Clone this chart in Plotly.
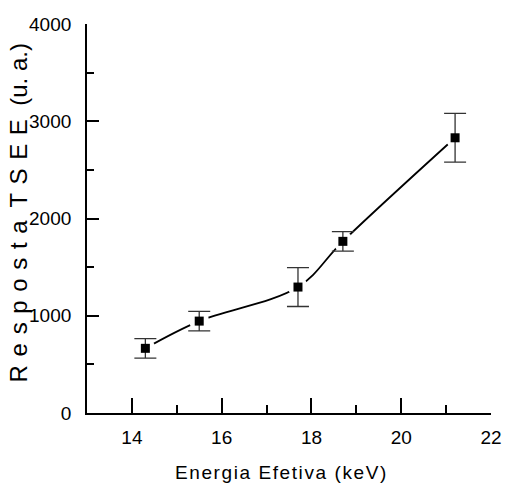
import plotly.graph_objects as go

# Data
energy_kev = [14.3, 15.5, 17.7, 18.7, 21.2]
response = [665, 945, 1295, 1765, 2830]
response_err = [100, 100, 200, 100, 250]

x_title = "\u200a".join("Energia Efetiva (keV)")
y_title = " \u200a".join("Resposta") + "  " + " \u200a".join("TSEE") + "  (u. a.)"

FONT = "Liberation Sans, Arial, sans-serif"

fig = go.Figure()

# smooth connecting curve
fig.add_trace(go.Scatter(
    x=energy_kev, y=response, mode="lines",
    line=dict(color="black", width=1.8, shape="spline", smoothing=1.0),
    hoverinfo="skip", showlegend=False,
))
# white masks to create gaps between the curve and the symbols
fig.add_trace(go.Scatter(
    x=energy_kev, y=response, mode="markers",
    marker=dict(symbol="circle", size=20, color="white"),
    hoverinfo="skip", showlegend=False,
))
# symbols with error bars
fig.add_trace(go.Scatter(
    x=energy_kev, y=response, mode="markers",
    marker=dict(symbol="square", size=9, color="black"),
    error_y=dict(type="data", array=response_err, visible=True,
                 color="#333333", thickness=1.3, width=11),
    showlegend=False,
))

fig.update_layout(
    width=507, height=489,
    margin=dict(l=87, r=16, t=24, b=76, autoexpand=False),
    paper_bgcolor="white", plot_bgcolor="white",
    font=dict(family=FONT, color="black", size=19),
    xaxis=dict(
        range=[13, 22], showgrid=False, zeroline=False, automargin=False,
        showline=True, linecolor="black", linewidth=1.8,
        ticks="inside", ticklen=15, tickwidth=1.6, tickcolor="black",
        tickmode="array", tickvals=[14, 16, 18, 20, 22],
        ticktext=["14", "16", "18", "20", "22"],
        tickfont=dict(size=19, family=FONT),
        ticklabelstandoff=6,
        minor=dict(ticks="inside", ticklen=8, tickwidth=1.6,
                   tickcolor="black", tickvals=[15, 17, 19, 21]),
    ),
    yaxis=dict(
        range=[0, 4000], showgrid=False, zeroline=False, automargin=False,
        showline=True, linecolor="black", linewidth=1.8,
        ticks="inside", ticklen=12, tickwidth=1.6, tickcolor="black",
        tickmode="array", tickvals=[0, 1000, 2000, 3000, 4000],
        ticktext=["0", "1000", "2000", "3000", "4000"],
        tickfont=dict(size=19, family=FONT),
        ticklabelstandoff=10,
        minor=dict(ticks="inside", ticklen=7, tickwidth=1.6,
                   tickcolor="black", tickvals=[500, 1500, 2500, 3500]),
    ),
    annotations=[
        dict(text=x_title, xref="paper", yref="paper", x=0.478, y=-0.153,
             xanchor="center", yanchor="middle", showarrow=False,
             font=dict(size=19, family=FONT, color="black")),
        dict(text=y_title, xref="paper", yref="paper", x=-0.169, y=0.515,
             xanchor="center", yanchor="middle", showarrow=False, textangle=-90,
             font=dict(size=24, family=FONT, color="black")),
    ],
)

fig.write_html("out.html")
